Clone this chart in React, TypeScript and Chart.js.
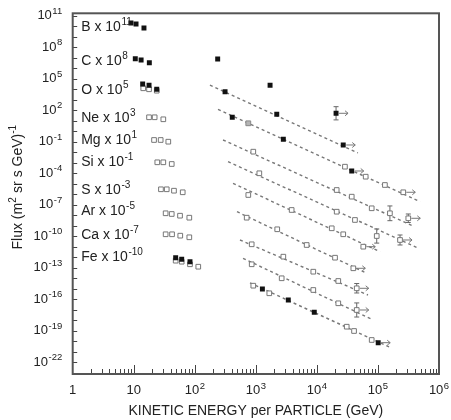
import React, { useEffect, useRef } from "react";
import { Chart, registerables } from "chart.js";

Chart.register(...registerables);

type Pt = [number, number];

// ---------- data: kinetic energy per particle (GeV), scaled flux ----------
const B_filled: Pt[] = [[9.0, 2.0e10], [10.9, 1.6e10], [14.7, 6.8e9], [237, 7.5e6], [1710, 2.35e4], [2.06e4, 50.7]];

const C_filled: Pt[] = [[10.6, 8.0e6], [13.2, 6.0e6], [18.0, 3.3e6], [313, 5.8e3], [2200, 40.7], [2.7e4, 4.85e-2]];
const C_fit: Pt[] = [[177, 2.5e4], [4.7e4, 8.4e-3]];

const O_filled: Pt[] = [[14.0, 3.1e4], [17.8, 2.35e4], [23.8, 9.8e3], [411, 21.1], [2820, 0.17], [3.72e4, 1.62e-4]];
const O_open: Pt[] = [[14.3, 1.22e4], [17.8, 9.8e3], [23.8, 7.2e3], [2.88e4, 4.16e-4], [6.3e4, 4.65e-5], [1.3e5, 7.5e-6], [2.6e5, 1.52e-6]];
const O_gray: Pt[] = [[752, 5.65]];
const O_fit: Pt[] = [[240, 117], [4.89e5, 1.93e-7]];

const Ne_open: Pt[] = [[17.8, 21.1], [22.0, 21.1], [30.5, 13.6], [908, 1.12e-2], [2.11e4, 2.5e-6], [3.72e4, 5.8e-7], [7.9e4, 4.54e-8], [1.57e5, 1.52e-8], [3.14e5, 5.07e-9]];
const Ne_fit: Pt[] = [[290, 0.145], [3.75e5, 9.35e-10]];

const Mg_open: Pt[] = [[21.5, 0.145], [27.6, 0.145], [36.8, 0.1], [1140, 9.8e-5], [2.11e4, 2.15e-8], [4.2e4, 3.5e-9], [9.55e4, 1.04e-10], [2.3e5, 4.35e-11]];
const Mg_fit: Pt[] = [[350, 1.24e-3], [4.53e5, 7.5e-12]];

const Si_open: Pt[] = [[24.3, 1.09e-3], [30.5, 1.09e-3], [41.9, 7.5e-4], [752, 8.4e-7], [3860, 3.13e-8], [1.75e4, 5.65e-10], [2.7e4, 1.52e-10], [5.75e4, 1.0e-11]];
const Si_fit: Pt[] = [[423, 1.09e-5], [1.08e5, 3.34e-12]];

const S_open: Pt[] = [[27.9, 2.93e-6], [34.7, 2.93e-6], [45.6, 2.15e-6], [63.4, 1.52e-6], [708, 5.78e-9], [2240, 4.54e-10], [6800, 1.45e-11], [1.98e4, 8.95e-13], [3.95e4, 8.77e-14]];
const S_fit: Pt[] = [[491, 2.15e-8], [6.55e4, 2.93e-14]];

const Ar_open: Pt[] = [[33.3, 1.52e-8], [41.9, 1.3e-8], [57.3, 8.95e-9], [81.3, 5.78e-9], [855, 1.69e-11], [2820, 1.12e-12], [8730, 4.16e-14], [2.24e4, 5.4e-15], [4.49e4, 1.09e-15]];
const Ar_fit: Pt[] = [[550, 4.35e-11], [6.87e4, 2.5e-16]];

const Ca_open: Pt[] = [[33.3, 1.52e-10], [42.4, 1.52e-10], [57.8, 1.12e-10], [81.3, 7.85e-11], [855, 2.11e-13], [2650, 9.8e-15], [8730, 7.5e-16], [2.24e4, 4.07e-17], [4.49e4, 9.35e-18]];
const Ca_fit: Pt[] = [[617, 7.85e-13], [7.9e4, 1.22e-18]];

const Fe_filled: Pt[] = [[48.6, 8.95e-13], [61.0, 6.3e-13], [83.4, 3.72e-13], [1280, 9.35e-16], [3400, 8.4e-17], [9060, 5.65e-18], [1.01e5, 7.2e-21]];
const Fe_open: Pt[] = [[48.6, 4.65e-13], [61.0, 3.72e-13], [83.4, 2.11e-13], [114, 1.24e-13], [908, 1.93e-15], [1660, 3.65e-16], [3.08e4, 2.4e-19], [4.06e4, 9.35e-20], [7.9e4, 1.3e-20]];
const Fe_fit: Pt[] = [[802, 3.5e-15], [1.68e5, 2.25e-21]];

// [E, flux, low, high]
const errorBars: [number, number, number, number][] = [
  [2.06e4, 50.7, 11.9, 216],
  [1.57e5, 1.52e-8, 3.0e-9, 7.6e-8],
  [3.14e5, 5.07e-9, 2.0e-9, 1.3e-8],
  [9.55e4, 1.04e-10, 2.2e-11, 4.9e-10],
  [2.3e5, 4.35e-11, 1.45e-11, 1.3e-10],
  [4.49e4, 1.09e-15, 3.9e-16, 3.1e-15],
  [4.49e4, 9.35e-18, 2.0e-18, 4.4e-17],
];

// points flagged with a "lower limit" arrow
const arrowPoints: Pt[] = [
  [2.06e4, 50.7], [2.7e4, 4.85e-2], [3.72e4, 1.62e-4], [2.6e5, 1.52e-6], [3.14e5, 5.07e-9],
  [2.3e5, 4.35e-11], [5.75e4, 1.0e-11], [3.95e4, 8.77e-14], [4.49e4, 1.09e-15], [4.49e4, 9.35e-18], [1.01e5, 7.2e-21],
];

const elementNames = ["B", "C", "O", "Ne", "Mg", "Si", "S", "Ar", "Ca", "Fe"];
const scaleExponents = ["11", "8", "5", "3", "1", "-1", "-3", "-5", "-7", "-10"];
const yTickExponents = [11, 8, 5, 2, -1, -4, -7, -10, -13, -16, -19, -22];
const xTickExponents = [0, 1, 2, 3, 4, 5, 6];

// layout: vertical anchor (log10 of flux) for each in-plot element label
const labelRowLog = [9.88, 6.69, 3.95, 1.26, -0.89, -2.9, -5.6, -7.63, -9.93, -11.95];

const FONT = '"Liberation Sans", Arial, Helvetica, sans-serif';
const TEXT = "#222";

const toXY = (arr: Pt[]) => arr.map(([x, y]) => ({ x, y }));
const filledSet = (arr: Pt[]) => ({
  data: toXY(arr), pointStyle: "rect", pointRadius: 3.5, pointHoverRadius: 3.5,
  backgroundColor: "#111", borderColor: "#111", borderWidth: 0, showLine: false,
});
const openSet = (arr: Pt[]) => ({
  data: toXY(arr), pointStyle: "rect", pointRadius: 3.3, pointHoverRadius: 3.3,
  backgroundColor: "#fff", borderColor: "#777", borderWidth: 1, showLine: false,
});
const graySet = (arr: Pt[]) => ({
  data: toXY(arr), pointStyle: "rect", pointRadius: 3.4, pointHoverRadius: 3.4,
  backgroundColor: "#b5b5b5", borderColor: "#888", borderWidth: 1, showLine: false,
});
const fitSet = (arr: Pt[]) => ({
  data: toXY(arr), showLine: true, pointRadius: 0, pointHoverRadius: 0,
  borderColor: "#787878", borderWidth: 1.4, borderDash: [3, 3], fill: false, tension: 0,
});

function drawSup(ctx: CanvasRenderingContext2D, x: number, y: number, base: string, sup: string,
  baseSize: number, supSize: number, align: "left" | "right" | "center", rise: number) {
  ctx.font = `${baseSize}px ${FONT}`;
  const wb = ctx.measureText(base).width;
  ctx.font = `${supSize}px ${FONT}`;
  const ws = sup ? ctx.measureText(sup).width + 0.5 : 0;
  const total = wb + ws;
  const x0 = align === "right" ? x - total : align === "center" ? x - total / 2 : x;
  ctx.textAlign = "left";
  ctx.textBaseline = "middle";
  ctx.font = `${baseSize}px ${FONT}`;
  ctx.fillText(base, x0, y);
  if (sup) {
    ctx.font = `${supSize}px ${FONT}`;
    ctx.fillText(sup, x0 + wb + 0.5, y - rise);
  }
}

const decor = {
  id: "decor",
  beforeDatasetsDraw(chart: any) {
    const { ctx } = chart;
    const xs = chart.scales.x, ys = chart.scales.y;
    ctx.save();
    ctx.strokeStyle = "#666";
    ctx.lineWidth = 1;
    ctx.beginPath();
    for (const [e, , lo, hi] of errorBars) {
      const px = xs.getPixelForValue(e);
      const pl = ys.getPixelForValue(lo), ph = ys.getPixelForValue(hi);
      ctx.moveTo(px, pl); ctx.lineTo(px, ph);
      ctx.moveTo(px - 2.5, pl); ctx.lineTo(px + 2.5, pl);
      ctx.moveTo(px - 2.5, ph); ctx.lineTo(px + 2.5, ph);
    }
    ctx.stroke();
    ctx.strokeStyle = "#777";
    ctx.beginPath();
    for (const [e, f] of arrowPoints) {
      const px = xs.getPixelForValue(e), py = ys.getPixelForValue(f);
      ctx.moveTo(px + 3, py); ctx.lineTo(px + 12, py);
      ctx.moveTo(px + 9, py - 2.5); ctx.lineTo(px + 12, py); ctx.lineTo(px + 9, py + 2.5);
    }
    ctx.stroke();
    ctx.restore();
  },
  afterDraw(chart: any) {
    const { ctx, chartArea: a } = chart;
    const xs = chart.scales.x, ys = chart.scales.y;
    ctx.save();
    // inward ticks
    ctx.strokeStyle = "#444";
    ctx.lineWidth = 1;
    ctx.beginPath();
    for (let d = 0; d < 6; d++) {
      for (let m = 1; m < 10; m++) {
        if (d === 0 && m === 1) continue;
        const px = Math.round(xs.getPixelForValue(m * Math.pow(10, d))) + 0.5;
        const len = m === 1 ? 9 : 5;
        ctx.moveTo(px, a.bottom); ctx.lineTo(px, a.bottom - len);
      }
    }
    for (let e = -23; e <= 11; e++) {
      const py = ys.getPixelForValue(Math.pow(10, e));
      if (py > a.bottom - 2 || py < a.top + 1) continue;
      const yy = Math.round(py) + 0.5;
      ctx.moveTo(a.left, yy); ctx.lineTo(a.left + 4.5, yy);
    }
    ctx.stroke();
    // frame
    ctx.lineWidth = 2;
    ctx.strokeStyle = "#555";
    ctx.strokeRect(a.left, a.top, a.right - a.left, a.bottom - a.top);

    ctx.fillStyle = TEXT;
    // y tick labels
    for (const e of yTickExponents) {
      const py = ys.getPixelForValue(Math.pow(10, e));
      drawSup(ctx, a.left - 10.5, py, "10", String(e), 13, 9.5, "right", 4.5);
    }
    // x tick labels
    for (const e of xTickExponents) {
      const px = xs.getPixelForValue(Math.pow(10, e));
      const base = e === 0 ? "1" : "10";
      const sup = e <= 1 ? "" : String(e);
      drawSup(ctx, px, a.bottom + 16.5, base, sup, 13, 9.5, "center", 4.5);
    }
    // element labels
    elementNames.forEach((nm, i) => {
      const py = ys.getPixelForValue(Math.pow(10, labelRowLog[i]));
      drawSup(ctx, a.left + 8.5, py, `${nm} x 10`, scaleExponents[i], 14, 10, "left", 4.8);
    });
    // x title
    ctx.font = `14px ${FONT}`;
    ctx.textAlign = "center";
    ctx.textBaseline = "middle";
    ctx.fillText("KINETIC ENERGY per PARTICLE (GeV)", (a.left + a.right) / 2, a.bottom + 37.5);
    // y title (rotated, with superscripts)
    ctx.save();
    ctx.translate(18.5, 249.5);
    ctx.rotate(-Math.PI / 2);
    const parts: [string, boolean][] = [["Flux (m", false], ["2", true], [" sr s GeV)", false], ["-1", true]];
    let cx = 0;
    ctx.textAlign = "left";
    ctx.textBaseline = "middle";
    for (const [t, sup] of parts) {
      ctx.font = `${sup ? 10 : 14}px ${FONT}`;
      ctx.fillText(t, cx, sup ? -4.8 : 0);
      cx += ctx.measureText(t).width + (sup ? 0.5 : 0);
    }
    ctx.restore();
    ctx.restore();
  },
};

export default function App() {
  const ref = useRef<HTMLCanvasElement | null>(null);
  useEffect(() => {
    if (!ref.current) return;
    const datasets: any[] = [
      filledSet(B_filled), filledSet(C_filled), filledSet(O_filled), filledSet(Fe_filled),
      graySet(O_gray),
      openSet(O_open), openSet(Ne_open), openSet(Mg_open), openSet(Si_open),
      openSet(S_open), openSet(Ar_open), openSet(Ca_open), openSet(Fe_open),
      fitSet(C_fit), fitSet(O_fit), fitSet(Ne_fit), fitSet(Mg_fit), fitSet(Si_fit),
      fitSet(S_fit), fitSet(Ar_fit), fitSet(Ca_fit), fitSet(Fe_fit),
    ];
    const chart = new Chart(ref.current, {
      type: "scatter",
      data: { datasets },
      options: {
        responsive: false,
        animation: false,
        events: [],
        layout: { padding: { left: 72.7, right: 12, top: 13.3, bottom: 46 } },
        plugins: { legend: { display: false }, tooltip: { enabled: false } },
        scales: {
          x: { type: "logarithmic", min: 1, max: 1e6, display: false },
          y: { type: "logarithmic", min: 7.5e-24, max: 1.69e11, display: false },
        },
      },
      plugins: [decor],
    } as any);
    return () => chart.destroy();
  }, []);
  return (
    <div style={{ position: "absolute", left: 0, top: 0, width: 451, height: 420, background: "#fff" }}>
      <canvas ref={ref} width={451} height={420} style={{ display: "block" }} />
    </div>
  );
}
